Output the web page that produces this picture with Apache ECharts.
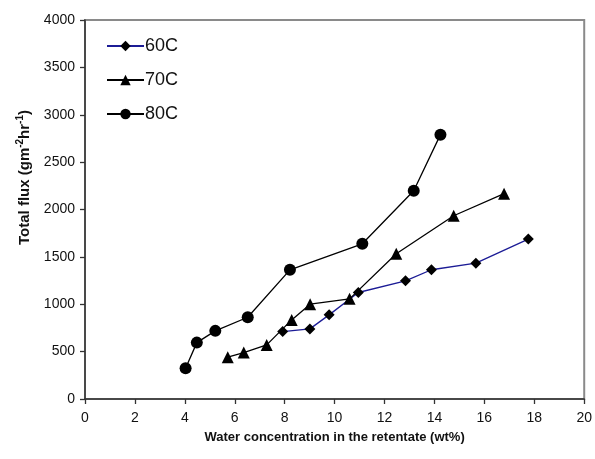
<!DOCTYPE html>
<html>
<head>
<meta charset="utf-8">
<style>
  html, body { margin: 0; padding: 0; background: #fff; }
  #chart { width: 595px; height: 459px; }
</style>
<script src="https://cdn.jsdelivr.net/npm/echarts@6/dist/echarts.min.js"></script>
</head>
<body>
<div id="chart"></div>
<script>
// Total flux vs. water concentration in the retentate, at three feed temperatures
const seriesNames = ['60C', '70C', '80C'];

const water60 = [7.92, 9.01, 9.78, 10.95, 12.84, 13.88, 15.66, 17.76];
const flux60  = [712, 740, 888, 1124, 1247, 1364, 1434, 1688];

const water70 = [5.72, 6.36, 7.28, 8.28, 9.02, 10.6, 12.47, 14.77, 16.79];
const flux70  = [441, 490, 571, 835, 1001, 1057, 1533, 1934, 2167];

const water80 = [4.03, 4.48, 5.22, 6.52, 8.21, 11.11, 13.17, 14.24];
const flux80  = [324, 595, 719, 863, 1363, 1638, 2198, 2790];

const xTicks = [0, 2, 4, 6, 8, 10, 12, 14, 16, 18, 20];
const yTicks = [0, 500, 1000, 1500, 2000, 2500, 3000, 3500, 4000];

const pairs = (xs, ys) => xs.map((x, i) => [x, ys[i]]);

const sans = '"Liberation Sans", Arial, sans-serif';

const chart = echarts.init(document.getElementById('chart'), null, { renderer: 'canvas' });

const mkSeries = (name, data, symbol, size, lineColor) => ({
  name: name,
  type: 'line',
  data: data,
  symbol: symbol,
  symbolSize: size,
  showSymbol: true,
  animation: false,
  lineStyle: { color: lineColor, width: 1.3 },
  itemStyle: { color: '#000' },
  emphasis: { disabled: true }
});

chart.setOption({
  backgroundColor: '#fff',
  animation: false,
  grid: {
    left: 85, right: 9, top: 20, bottom: 60,
    show: true, borderColor: '#8a8a8a', borderWidth: 2, backgroundColor: 'transparent'
  },
  legend: {
    orient: 'vertical',
    left: 101, top: 32,
    itemWidth: 37, itemHeight: 13,
    itemGap: 16,
    data: seriesNames,
    textStyle: { fontFamily: sans, fontSize: 18, color: '#111', padding: [0, 0, 0, -4] }
  },
  xAxis: {
    type: 'value',
    min: xTicks[0], max: xTicks[xTicks.length - 1], interval: 2,
    name: 'Water concentration in the retentate (wt%)',
    nameLocation: 'middle', nameGap: 32,
    nameTextStyle: { fontFamily: sans, fontSize: 13, fontWeight: 'bold', color: '#111' },
    axisLine: { show: true, onZero: false, lineStyle: { color: '#333', width: 1.5 } },
    axisTick: { show: true, length: 5, lineStyle: { color: '#333', width: 1.3 } },
    axisLabel: { margin: 12, fontFamily: sans, fontSize: 14, color: '#111' },
    splitLine: { show: false }
  },
  yAxis: {
    type: 'value',
    min: yTicks[0], max: yTicks[yTicks.length - 1], interval: 500,
    name: '{t|Total flux (gm}{s|-2}{t|hr}{s|-1}{t|)}',
    nameLocation: 'middle', nameGap: 51, nameRotate: 90,
    nameTextStyle: {
      padding: [0, 0, 0, 64],
      rich: {
        t: { fontFamily: sans, fontSize: 15, fontWeight: 'bold', color: '#111' },
        s: { fontFamily: sans, fontSize: 10, fontWeight: 'bold', color: '#111', padding: [0, 0, 9, 0] }
      }
    },
    axisLine: { show: true, lineStyle: { color: '#333', width: 1.5 } },
    axisTick: { show: true, length: 5, lineStyle: { color: '#333', width: 1.3 } },
    axisLabel: {
      margin: 10, fontFamily: sans, fontSize: 14, color: '#111',
      formatter: v => String(v)
    },
    splitLine: { show: false }
  },
  series: [
    mkSeries(seriesNames[0], pairs(water60, flux60), 'diamond', 11, '#1c1c96'),
    mkSeries(seriesNames[1], pairs(water70, flux70), 'triangle', 12, '#000'),
    mkSeries(seriesNames[2], pairs(water80, flux80), 'circle', 12, '#000')
  ]
});
</script>
</body>
</html>
